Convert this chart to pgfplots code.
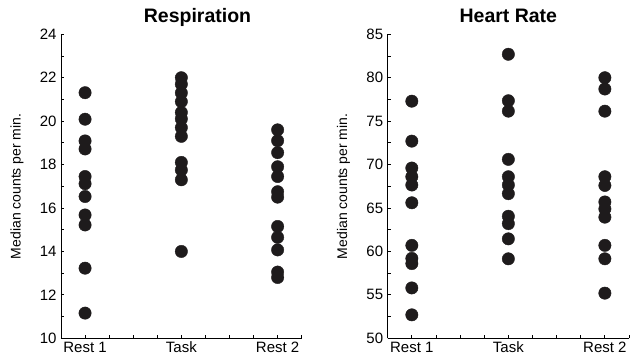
\documentclass[border=0pt]{standalone}
\usepackage{pgfplots}
\pgfplotsset{compat=1.18}
\usepackage{fontspec}
\setmainfont{Liberation Sans}
\definecolor{dot}{HTML}{1E1B1C}
\begin{document}
\begin{tikzpicture}
\path[use as bounding box] (0pt,0pt) rectangle (632pt,361pt);
\pgfplotsset{
 pts/.style={only marks, mark=*, mark size=6.2pt, draw=dot, fill=dot, mark options={fill=dot, draw=dot}},
 panel/.style={
  scale only axis, width=240.7pt, height=304pt,
  axis lines*=left,
  xmin=0, xmax=10,
  xtick={1,5,9}, xticklabels={Rest 1,Task,Rest 2},
  minor xtick={2,3,4,6,7,8,10},
  tick align=inside,
  major tick length=3pt, minor tick length=3pt,
  every tick/.style={line width=0.8pt, black},
  every minor tick/.style={line width=0.8pt, black},
  axis line style={line width=0.8pt, black},
  ticklabel style={font=\fontsize{15}{15}\selectfont},
  yticklabel style={xshift=-1pt},
  /pgf/number format/assume math mode=true,
  ylabel={Median counts per min.},
  ylabel style={font=\fontsize{14}{14}\selectfont, at={(axis description cs:-0.183,0.5)}, anchor=center},
  title style={font=\fontsize{19.5}{19.5}\selectfont\bfseries, anchor=base},
 }
}
\begin{axis}[panel, at={(61pt,22.7pt)}, anchor=south west,
  ymin=10, ymax=24, ytick={10,12,...,24}, minor ytick={11,13,...,23},
  title={Respiration}, title style={at={(axis description cs:0.567,1.02)}}]
\addplot[pts] coordinates {(1,21.31) (1,20.09) (1,19.09) (1,18.72) (1,17.45) (1,17.12) (1,16.53) (1,15.68) (1,15.22) (1,13.23) (1,11.16)};
\addplot[pts] coordinates {(5,22.0) (5,21.7) (5,21.3) (5,20.9) (5,20.4) (5,20.1) (5,19.7) (5,19.3) (5,18.1) (5,17.75) (5,17.3) (5,14.0)};
\addplot[pts] coordinates {(9,19.6) (9,19.1) (9,18.55) (9,17.9) (9,17.45) (9,16.75) (9,16.5) (9,15.15) (9,14.65) (9,14.07) (9,13.05) (9,12.8)};
\end{axis}
\begin{axis}[panel, at={(387.7pt,22.7pt)}, anchor=south west, width=241.3pt,
  ymin=50, ymax=85, ytick={50,55,...,85}, minor y tick num=1,
  title={Heart Rate}, title style={at={(axis description cs:0.5,1.02)}}]
\addplot[pts] coordinates {(1,77.3) (1,72.7) (1,69.6) (1,68.6) (1,67.65) (1,65.6) (1,60.7) (1,59.2) (1,58.6) (1,55.8) (1,52.7)};
\addplot[pts] coordinates {(5,82.7) (5,77.35) (5,76.15) (5,70.6) (5,68.6) (5,67.65) (5,66.65) (5,64.05) (5,63.2) (5,61.45) (5,59.15)};
\addplot[pts] coordinates {(9,80.0) (9,78.7) (9,76.15) (9,68.6) (9,67.6) (9,65.7) (9,64.9) (9,63.95) (9,60.7) (9,59.15) (9,55.2)};
\end{axis}
\end{tikzpicture}
\end{document}
